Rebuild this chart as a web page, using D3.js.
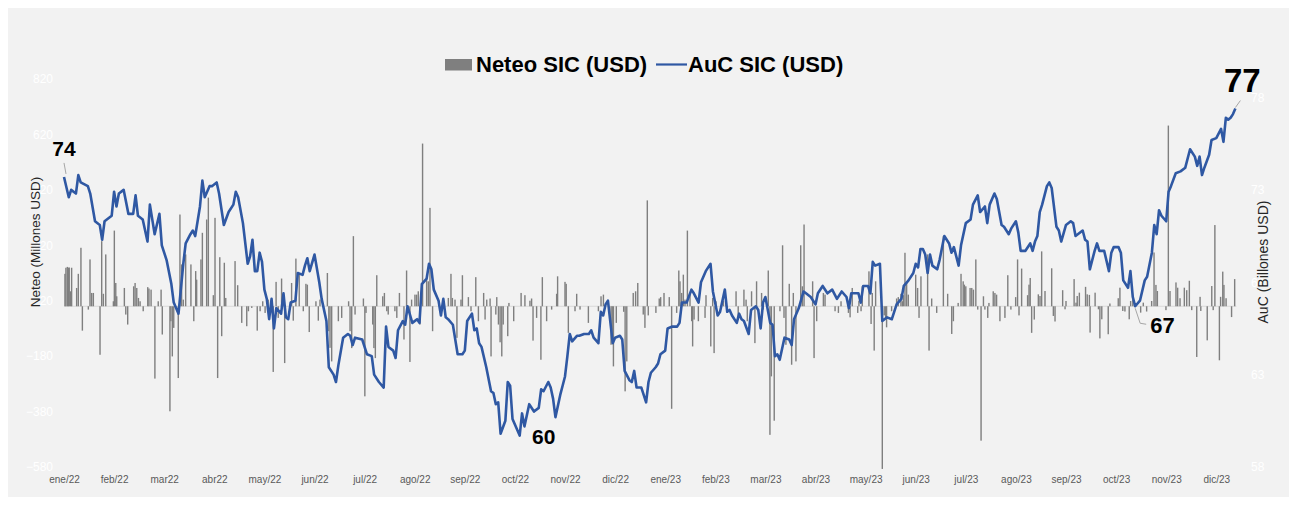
<!DOCTYPE html>
<html><head><meta charset="utf-8">
<script src="https://cdn.jsdelivr.net/npm/d3@7"></script>
<style>
html,body{margin:0;padding:0;background:#ffffff;}
svg{display:block;font-family:"Liberation Sans",Arial,sans-serif;}
</style></head>
<body>
<svg id="chart" width="1294" height="515"></svg>
<script>
// ---------- DATA ----------
const monthLabels = ["ene/22","feb/22","mar22","abr22","may/22","jun/22","jul/22","ago/22","sep/22","oct/22","nov/22","dic/22",
  "ene/23","feb/23","mar/23","abr/23","may/23","jun/23","jul/23","ago/23","sep/23","oct/23","nov/23","dic/23"];
const daysPerMonth = 21; // business days per month on the category axis

const leftTicks = [820,620,420,220,20,-180,-380,-580];
const rightTicks = [78,73,68,63,58];

// AuC SIC (USD) in billions; business-day index
const aucDay = [0,2,3,5,6,7,10,11,13,15,16,17,20,21,22,23,25,27,29,30,31,33,35,36,38,40,41,43,45,46,48,50,51,53,54,55,57,58,59,61,62,64,65,67,69,71,72,73,75,77,78,79,80,81,82,83,84,85,86,87,88,89,91,92,93,94,95,97,98,100,101,102,103,105,107,108,110,111,113,114,115,117,119,120,121,122,125,127,129,130,132,134,135,136,138,139,140,142,143,144,146,148,149,150,152,153,154,155,157,158,159,160,161,163,165,167,168,169,171,172,173,174,175,177,179,180,181,182,183,185,186,187,188,191,192,193,195,197,199,200,201,203,204,205,206,208,209,210,211,212,213,215,216,218,220,221,222,224,225,226,227,228,230,231,233,234,235,237,238,239,240,242,244,245,246,248,249,250,252,253,255,257,258,259,261,263,264,266,267,269,271,272,274,275,277,278,279,280,282,283,284,285,287,288,290,291,292,293,294,296,297,298,299,300,302,304,305,306,308,310,311,313,315,316,318,320,322,324,326,328,329,330,333,334,335,337,338,339,340,342,343,345,347,349,351,352,354,356,357,358,359,360,361,362,363,364,366,367,369,371,372,373,375,376,378,380,381,383,384,386,387,388,390,391,393,394,396,397,399,400,401,403,405,406,407,408,409,410,412,413,414,416,417,418,420,422,423,424,427,428,429,430,432,433,434,436,438,439,440,442,443,444,446,447,448,449,451,453,454,456,457,458,459,460,462,463,464,466,468,470,472,474,475,476,477,478,480,481,483,485,486,487,488,489,490,491];
const aucVal = [73.7,72.6,73.0,72.8,73.8,73.4,73.2,72.8,71.3,71.1,70.3,71.3,71.6,72.9,72.1,72.8,73.0,71.7,71.7,72.7,71.6,71.4,70.2,72.2,70.6,71.7,70.0,69.2,67.9,66.9,66.3,69.0,70.1,70.6,70.8,70.5,72.1,73.5,72.6,73.2,73.2,73.4,72.8,71.1,71.8,72.2,72.9,72.6,71.2,69.0,69.4,70.3,68.6,68.6,69.6,69.1,67.6,67.1,66.0,67.1,65.5,66.6,66.3,67.4,66.1,66.0,66.9,67.0,68.5,68.4,68.9,69.3,68.6,69.5,68.0,67.1,65.9,63.4,63.0,62.6,63.5,65.0,65.2,65.1,64.6,65.0,64.9,64.1,64.0,63.0,62.6,62.3,65.6,64.5,64.3,63.9,65.4,65.9,65.7,66.7,65.8,66.0,65.8,67.9,68.2,69.0,68.7,67.6,67.0,66.2,67.1,66.1,66.0,65.7,64.1,64.1,64.3,65.9,66.3,65.4,65.5,64.7,64.5,63.4,62.1,62.0,61.4,61.5,59.8,60.5,62.6,62.4,60.6,59.7,60.9,60.2,61.4,61.0,61.2,62.2,62.1,62.6,62.3,61.7,60.7,61.9,62.4,62.9,64.0,65.2,64.8,65.1,65.1,65.2,65.2,65.4,65.0,64.7,66.4,66.2,66.8,67.0,64.7,65.0,65.1,64.9,63.2,62.7,62.6,63.2,62.3,62.3,61.5,62.6,63.1,63.4,63.6,64.1,64.3,65.5,65.6,65.6,65.8,66.9,66.9,67.6,67.4,66.9,68.0,68.6,69.0,67.5,66.2,66.4,67.6,66.4,66.5,66.2,65.8,66.3,66.0,65.9,65.2,66.5,66.7,66.5,65.5,66.9,67.2,65.8,65.7,64.0,64.1,63.8,65.0,64.9,64.6,66.0,66.6,67.5,67.4,67.2,66.8,67.4,67.8,67.4,67.6,67.1,67.5,67.2,66.6,67.4,67.4,66.9,67.8,67.8,67.4,69.1,68.9,69.0,65.9,66.1,66.0,66.8,67.1,67.8,68.1,68.5,69.0,68.8,69.8,69.8,69.5,68.5,69.5,68.9,68.7,69.2,70.5,70.1,69.6,69.9,68.9,70.0,71.2,71.4,72.2,72.7,71.8,72.1,71.2,72.2,72.8,72.5,71.1,71.0,70.6,70.9,71.3,70.7,69.7,69.7,70.1,69.7,70.2,70.5,71.8,72.2,73.2,73.4,73.1,71.0,70.8,70.2,71.1,71.3,71.2,70.5,70.8,70.3,70.2,68.7,69.7,70.1,69.7,69.7,68.6,69.6,69.9,69.9,69.6,68.1,67.7,68.6,67.2,66.7,67.0,68.1,68.3,69.6,71.1,70.6,71.9,71.6,71.3,72.9,73.2,73.9,74.0,74.2,75.2,74.8,74.3,74.8,73.8,74.2,74.9,75.7,75.8,76.3,75.6,76.9,76.8,76.9,77.1,77.4];

// Neteo SIC (USD) in millions; business-day index
const netDay = [0.4,0.8,1.4,1.8,2.2,2.8,3.2,5.3,6.0,7.1,7.7,10.2,10.9,11.6,12.3,15.1,15.8,16.5,17.5,20.7,21.1,21.7,22.1,25.3,25.9,26.7,29.2,29.8,30.5,31.2,31.9,33.2,35.1,35.6,36.5,38.1,39.5,40.7,41.2,44.4,44.8,45.4,46.0,47.9,48.6,49.3,50.0,51.0,53.2,54.4,55.2,55.6,57.4,58.0,59.8,60.5,62.6,63.3,64.4,65.3,66.1,67.2,67.8,71.7,72.8,74.5,76.6,77.3,
78.7,81.0,82.2,83.3,84.3,85.6,87.7,88.9,89.8,91.2,92.5,95.4,96.1,97.2,98.6,100.3,101.4,102.0,102.8,105.6,106.6,107.3,110.4,111.0,111.5,112.2,115.0,116.4,119.3,119.9,120.6,121.3,122.0,125.5,126.1,126.6,129.4,129.9,130.5,131.1,133.6,134.3,135.3,135.9,138.7,139.5,140.6,142.5,143.6,145.0,145.7,147.1,147.8,148.5,149.2,150.3,152.0,152.7,153.4,154.5,159.0,161.1,
162.2,162.8,163.9,164.7,166.4,167.0,169.5,170.6,172.6,173.7,175.9,176.5,177.2,178.6,179.0,181.0,181.4,182.1,182.8,183.5,184.1,186.0,186.5,188.5,191.6,193.2,195.3,196.0,196.6,198.1,199.9,200.5,202.3,204.4,206.5,206.9,210.0,210.5,211.4,214.2,214.9,216.3,219.8,224.0,225.1,226.1,229.3,229.8,230.3,231.5,234.6,235.2,235.9,238.6,239.6,240.5,
242.8,243.5,244.5,244.9,248.1,249.5,250.1,251.5,253.7,254.7,256.8,257.7,258.2,258.9,259.6,260.3,261.3,262.4,263.1,263.5,264.1,265.9,268.7,269.1,271.1,271.9,272.5,273.3,276.4,277.5,281.7,282.6,285.0,285.9,286.4,288.2,289.6,290.3,292.4,293.1,295.2,295.9,296.5,297.7,300.1,301.2,301.8,302.6,304.0,305.0,305.7,306.8,308.8,309.5,310.2,313.8,314.4,315.5,318.3,319.0,323.2,324.6,
325.7,328.8,329.5,330.4,332.7,333.2,334.1,334.6,337.4,338.3,338.8,339.6,340.2,343.0,343.8,344.4,344.8,346.9,349.0,349.7,350.8,351.4,351.8,352.5,353.2,353.9,357.0,357.8,358.4,359.2,362.0,362.6,363.7,365.8,368.6,370.4,372.1,372.8,374.8,376.0,376.9,377.4,378.0,379.8,380.5,381.2,382.2,383.0,384.4,385.4,386.0,387.2,387.7,389.5,390.2,390.9,392.3,394.4,395.6,396.9,398.9,399.7,400.3,401.4,403.9,404.5,405.0,405.6,406.7,
408.4,409.1,409.8,411.2,414.0,414.7,415.4,418.6,419.6,420.0,423.4,424.2,424.7,425.6,428.2,428.9,429.8,430.1,432.2,433.6,434.2,435.0,437.7,438.4,441.9,442.6,443.8,444.7,446.5,447.1,448.0,451.3,452.4,453.8,455.9,456.9,457.7,458.3,461.9,462.9,463.6,466.1,466.8,467.8,469.6,470.6,471.7,472.7,474.8,476.2,476.5,479.2,481.1,481.7,482.4,484.3,484.8,485.7,486.2,487.1,489.4,490.7];
const netVal = [117,139,142,139,140,54,139,66,117,211,-88,-12,169,48,48,-175,235,45,187,18,273,84,36,66,-30,-66,72,84,66,30,18,-18,69,64,60,-261,18,60,-102,-379,-54,-181,-78,-259,331,151,24,187,151,-54,127,96,169,265,313,392,40,319,-259,177,-108,157,30,163,76,-60,-72,-18,
-6,-88,-18,18,-24,24,-237,88,-42,100,-205,84,-52,172,120,-18,81,78,-93,18,-52,24,120,-90,-150,-199,-54,-42,18,-90,-151,253,-30,28,-325,-24,-66,-151,-187,112,36,48,-18,-30,-18,-42,48,-120,129,-201,24,42,42,54,-66,587,102,90,355,-90,24,30,
117,30,24,-114,24,112,33,-18,105,-54,48,-48,24,28,-181,-30,33,-66,-130,-181,-66,-108,12,-54,48,40,20,28,-124,-42,-193,105,-54,-12,45,108,88,81,-96,-18,45,-12,-60,-18,36,42,-139,-100,-217,-60,-20,-307,-199,48,54,84,
-30,-78,382,-33,-24,28,33,48,33,-370,-24,129,90,48,114,24,273,42,-54,-145,-48,-54,-42,40,-145,30,-169,18,20,30,54,-42,60,24,-54,54,-133,90,48,-12,129,-464,-253,-413,-18,220,-42,-139,81,-211,48,-199,220,72,295,90,-187,-54,48,42,-18,-24,
18,-24,-40,66,-24,20,-18,72,126,-64,48,-160,90,-587,-33,-42,-76,-18,28,33,45,18,40,193,84,42,114,66,-42,108,187,-160,28,-24,253,45,-100,-54,12,117,90,78,72,66,66,60,169,-12,-485,36,-12,-42,12,54,48,42,-54,-42,112,-12,33,169,-33,136,40,78,102,-96,-48,
43,37,198,55,137,-35,-55,58,-11,19,98,13,37,49,70,43,41,-95,49,-11,-116,-47,-101,10,29,67,-17,-19,-47,19,25,-23,13,-19,19,194,77,55,-14,652,55,86,67,29,67,58,92,-14,-183,34,-17,-123,73,-14,293,-195,34,125,77,29,-39,98];

// callouts: value label text, anchor point index into auc arrays
const callouts = [
  {text:"74", idx:0},
  {text:"60", idx:aucVal.indexOf(59.7)},
  {text:"67", idx:aucDay.indexOf(449)},
  {text:"77", idx:aucVal.length-1}
];

// ---------- LAYOUT ----------
const svg = d3.select("#chart");
const plotTop = 79, plotBottom = 467, plotLeft = 64;
const monthWidth = 50.1;

svg.append("rect").attr("x",8).attr("y",8).attr("width",1281).attr("height",489).attr("fill","#f2f2f2");

const x = d3.scaleLinear().domain([0, daysPerMonth*monthLabels.length]).range([plotLeft, plotLeft + monthWidth*monthLabels.length]);
const yL = d3.scaleLinear().domain([-580, 820]).range([plotBottom, plotTop]);
const yR = d3.scaleLinear().domain([58, 79]).range([plotBottom, plotTop]);

// left axis labels (white)
const gL = svg.append("g").attr("transform",`translate(${53},0)`)
  .call(d3.axisLeft(yL).tickValues(leftTicks).tickSize(0).tickPadding(0).tickFormat(d3.format("d")));
gL.select(".domain").remove();
gL.selectAll("text").attr("fill","#ffffff").attr("font-size",12).attr("font-family","Liberation Sans, Arial, sans-serif");

const gR = svg.append("g").attr("transform",`translate(${1251},0)`)
  .call(d3.axisRight(yR).tickValues(rightTicks).tickSize(0).tickPadding(0).tickFormat(d3.format("d")));
gR.select(".domain").remove();
gR.selectAll("text").attr("fill","#ffffff").attr("font-size",12).attr("font-family","Liberation Sans, Arial, sans-serif");

// x axis labels
const monthIdx = d3.range(monthLabels.length);
const gX = svg.append("g").attr("transform",`translate(0,${480})`)
  .call(d3.axisBottom(x).tickValues(monthIdx.map(i=>i*daysPerMonth)).tickSize(0).tickPadding(0)
    .tickFormat((d,i)=>monthLabels[i]));
gX.select(".domain").remove();
gX.selectAll("text").attr("fill","#595959").attr("font-size",10).attr("dy","0.32em")
  .attr("font-family","Liberation Sans, Arial, sans-serif");

// zero baseline
const lastDay = d3.max(aucDay);
svg.append("line").attr("x1",x(0)).attr("x2",x(lastDay)+1).attr("y1",yL(0)).attr("y2",yL(0))
  .attr("stroke","#d9d9d9").attr("stroke-width",1.2);

// bars
svg.append("g").selectAll("rect").data(netDay.map((d,i)=>({d, v:netVal[i]}))).join("rect")
  .attr("x", p => x(p.d) - 0.7)
  .attr("width", 1.4)
  .attr("y", p => Math.min(yL(p.v), yL(0)))
  .attr("height", p => Math.abs(yL(p.v) - yL(0)))
  .attr("fill", "#7f7f7f");

// line
const line = d3.line().x(p=>x(p.d)).y(p=>yR(p.v)).curve(d3.curveLinear);
svg.append("path").datum(aucDay.map((d,i)=>({d, v:aucVal[i]})))
  .attr("d", line).attr("fill","none").attr("stroke","#2f58a3").attr("stroke-width",2.6)
  .attr("stroke-linejoin","round");

// callouts
const cfg = {
  "74": {dx:0, dy:-21, size:21, anchor:"middle", leader:[[2,-3],[0,-14]]},
  "60": {dx:24, dy:8, size:21, anchor:"middle", leader:null},
  "67": {dx:15, dy:27, size:22, anchor:"start", leader:[[0,2],[5,17],[11,18]]},
  "77": {dx:7, dy:-17, size:33, anchor:"middle", leader:[[0,-1],[5,-8]]}
};
callouts.forEach(c => {
  const px = x(aucDay[c.idx]), py = yR(aucVal[c.idx]);
  const k = cfg[c.text];
  if (k.leader) {
    svg.append("path").attr("d", d3.line()(k.leader.map(p=>[px+p[0], py+p[1]])))
      .attr("fill","none").attr("stroke","#a6a6a6").attr("stroke-width",1);
  }
  svg.append("text").attr("x", px + k.dx).attr("y", py + k.dy)
    .attr("font-size", k.size).attr("font-weight","bold").attr("fill","#000")
    .attr("text-anchor", k.anchor)
    .text(c.text);
});

// axis titles
svg.append("text").attr("transform","translate(40,242) rotate(-90)").attr("text-anchor","middle")
  .attr("font-size",13.5).attr("fill","#262626").text("Neteo (Millones USD)");
svg.append("text").attr("transform","translate(1268,262) rotate(-90)").attr("text-anchor","middle")
  .attr("font-size",14).attr("fill","#262626").text("AuC (Billones USD)");

// legend
const lg = svg.append("g");
lg.append("rect").attr("x",445).attr("y",59).attr("width",27).attr("height",11.5).attr("fill","#7f7f7f");
lg.append("text").attr("x",476).attr("y",72).attr("font-size",22).attr("font-weight","bold").attr("fill","#000").text("Neteo SIC (USD)");
lg.append("line").attr("x1",656).attr("x2",687).attr("y1",64.5).attr("y2",64.5).attr("stroke","#2f58a3").attr("stroke-width",2.2);
lg.append("text").attr("x",688).attr("y",72).attr("font-size",22).attr("font-weight","bold").attr("fill","#000").text("AuC SIC (USD)");
</script>
</body></html>
